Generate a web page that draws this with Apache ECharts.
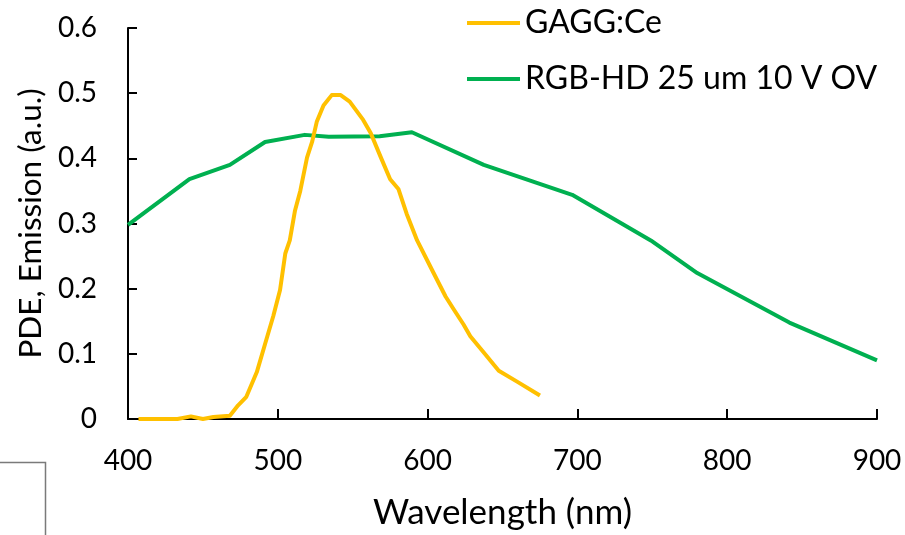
<!DOCTYPE html>
<html>
<head>
<meta charset="utf-8">
<script src="https://cdn.jsdelivr.net/npm/echarts@6/dist/echarts.min.js"></script>
<style>
  html, body { margin: 0; padding: 0; background: #ffffff; }
  #chart { width: 905px; height: 535px; }
</style>
</head>
<body>
<div id="chart"></div>
<script>
// Wavelength axis (nm) and PDE / emission axis (a.u.)
const xTicks = [400, 500, 600, 700, 800, 900];
const yTicks = [0, 0.1, 0.2, 0.3, 0.4, 0.5, 0.6];

// GAGG:Ce emission spectrum
const gaggWavelength = [407, 420, 433, 442, 450, 457, 468, 473.5, 479, 486, 491.5, 497, 501.5, 505, 508,
  511.5, 515, 519.5, 523, 526, 530.5, 536, 542, 548, 557, 562, 568.5, 575, 580.5, 586, 593,
  604, 612, 617.5, 624, 628.5, 637.5, 647.5, 660, 675];
const gaggEmission = [0, 0, 0, 0.004, 0, 0.003, 0.005, 0.021, 0.034, 0.072, 0.115, 0.158, 0.198, 0.254, 0.274,
  0.320, 0.350, 0.401, 0.426, 0.456, 0.481, 0.497, 0.497, 0.487, 0.459, 0.439, 0.403, 0.368, 0.353, 0.315, 0.274,
  0.224, 0.188, 0.168, 0.145, 0.127, 0.102, 0.074, 0.057, 0.036];

// RGB-HD 25 um SiPM photon detection efficiency at 10 V overvoltage
const rgbWavelength = [400, 441, 468, 491.5, 518, 534, 568, 589.5, 637.5, 696.5, 749, 780, 841.5, 900];
const rgbPde = [0.298, 0.368, 0.390, 0.425, 0.436, 0.433, 0.434, 0.440, 0.390, 0.344, 0.274, 0.224, 0.148, 0.090];

const seriesNames = ['GAGG:Ce', 'RGB-HD 25 um 10 V OV'];

const pairs = (xs, ys) => xs.map((x, i) => [x, ys[i]]);

const FONT = 'Lato, "Open Sans", sans-serif';

const chart = echarts.init(document.getElementById('chart'), null, { renderer: 'canvas' });

chart.setOption({
  animation: false,
  backgroundColor: '#ffffff',
  grid: { left: 128, right: 28, top: 28, bottom: 111, containLabel: false },
  legend: {
    orient: 'vertical',
    left: 467,
    top: 7,
    padding: 0,
    itemWidth: 53,
    itemHeight: 4,
    itemGap: 24,
    icon: 'rect',
    textStyle: { fontFamily: FONT, fontSize: 32, color: '#000000' },
    data: seriesNames
  },
  xAxis: {
    type: 'value',
    min: xTicks[0],
    max: xTicks[xTicks.length - 1],
    interval: 100,
    name: 'Wavelength (nm)',
    nameLocation: 'middle',
    nameGap: 76,
    nameTextStyle: { fontFamily: FONT, fontSize: 35, color: '#000000' },
    axisLine: { show: true, lineStyle: { color: '#000000', width: 2 } },
    axisTick: { show: true, inside: true, length: 10, lineStyle: { color: '#000000', width: 2 } },
    axisLabel: { fontFamily: FONT, fontSize: 28, color: '#000000', margin: 28 },
    splitLine: { show: false }
  },
  yAxis: {
    type: 'value',
    min: yTicks[0],
    max: yTicks[yTicks.length - 1],
    interval: 0.1,
    name: 'PDE, Emission (a.u.)',
    nameLocation: 'middle',
    nameGap: 79,
    nameTextStyle: { fontFamily: FONT, fontSize: 31.5, color: '#000000' },
    axisLine: { show: true, lineStyle: { color: '#000000', width: 2 } },
    axisTick: { show: true, inside: true, length: 9, lineStyle: { color: '#000000', width: 2 } },
    axisLabel: { fontFamily: FONT, fontSize: 28, color: '#000000', margin: 31 },
    splitLine: { show: false }
  },
  series: [
    {
      name: seriesNames[0],
      type: 'line',
      data: pairs(gaggWavelength, gaggEmission),
      showSymbol: false,
      symbol: 'none',
      color: '#FFC000',
      lineStyle: { color: '#FFC000', width: 4, join: 'round' },
      z: 3
    },
    {
      name: seriesNames[1],
      type: 'line',
      data: pairs(rgbWavelength, rgbPde),
      showSymbol: false,
      symbol: 'none',
      color: '#00B050',
      lineStyle: { color: '#00B050', width: 4, join: 'round' },
      z: 2
    }
  ],
  graphic: [
    {
      type: 'polyline',
      shape: { points: [[0, 462.5], [45.5, 462.5], [45.5, 535]] },
      style: { stroke: '#7a7a7a', lineWidth: 1.5, fill: null },
      silent: true
    }
  ]
});
</script>
</body>
</html>
